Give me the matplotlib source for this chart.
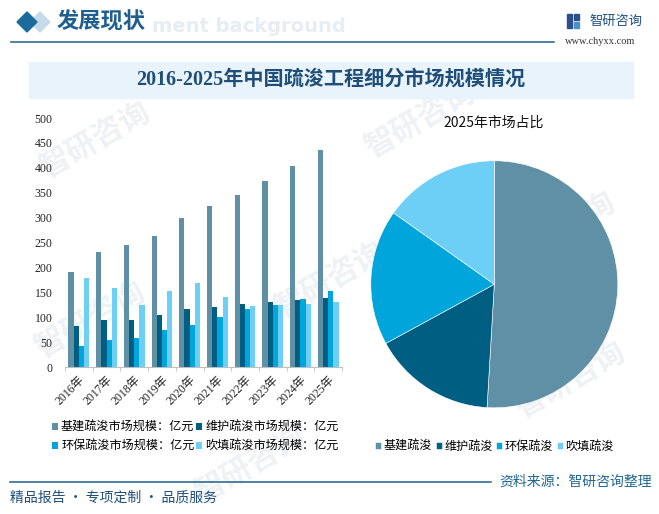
import numpy as np
import matplotlib
matplotlib.use('Agg')
import matplotlib.pyplot as plt
from matplotlib.patches import Polygon, Rectangle

# data (亿元)
years = ['2016年', '2017年', '2018年', '2019年', '2020年', '2021年', '2022年', '2023年', '2024年', '2025年']
jijian = [190, 231, 245, 263, 300, 324, 346, 374, 404, 436]
weihu = [83, 94, 95, 104, 116, 120, 126, 130, 134, 138]
huanbao = [43, 55, 59, 75, 85, 100, 116, 124, 136, 152]
chuitian = [178, 158, 124, 152, 168, 140, 122, 124, 126, 130]

bar_names = ['基建疏浚市场规模：亿元', '维护疏浚市场规模：亿元', '环保疏浚市场规模：亿元', '吹填疏浚市场规模：亿元']
pie_names = ['基建疏浚', '维护疏浚', '环保疏浚', '吹填疏浚']
pie_vals = [jijian[-1], weihu[-1], huanbao[-1], chuitian[-1]]
colors = ['#6090a6', '#005e82', '#00a5dc', '#6dcff5']

CJK = ['Noto Sans CJK SC', 'DejaVu Sans']
SERIF = ['Liberation Serif', 'Noto Sans CJK SC']
plt.rcParams['font.family'] = CJK

W, H = 659, 514
fig = plt.figure(figsize=(W / 100, H / 100), dpi=100)
fig.patch.set_facecolor('white')

# background / decoration layer in pixel coordinates
bg = fig.add_axes([0, 0, 1, 1])
bg.set_xlim(0, W)
bg.set_ylim(H, 0)
bg.axis('off')

# faint watermarks
for (wx, wy) in [(95, 140), (420, 120), (90, 320), (330, 280), (560, 230), (250, 465), (570, 380)]:
    bg.text(wx, wy, '智研咨询', fontsize=22, color='#eef2f5', rotation=30,
            ha='center', va='center', fontweight='bold', zorder=0)

# header
bg.add_patch(Polygon([(40, 12), (50, 22), (40, 32), (30, 22)], closed=True, color='#c5dbea', zorder=2))
bg.add_patch(Polygon([(27, 12), (37, 22), (27, 32), (17, 22)], closed=True, color='#1d6a9c', zorder=3))
bg.text(152, 26, 'ment background', fontsize=14, color='#e6edf3', fontweight='bold',
        ha='left', va='center', family=['DejaVu Sans'], zorder=2)
bg.text(57, 22, '发展现状', fontsize=16, color='#1f5f8f', fontweight='bold', ha='left', va='center', zorder=3)
bg.plot([11, 554], [42, 42], color='#1f5f8a', lw=1.1, zorder=3)
bg.add_patch(Rectangle((567, 14), 5, 14, color='#2b4f8a', zorder=3))
bg.add_patch(Rectangle((574, 14), 5, 6, color='#2b4f8a', zorder=3))
bg.add_patch(Rectangle((574, 22), 5, 6, color='#4a90c8', zorder=3))
bg.text(589, 21, '智研咨询', fontsize=9.5, color='#1f4f82', ha='left', va='center', zorder=3)
bg.text(565, 41, 'www.chyxx.com', fontsize=7.5, color='#333333', ha='left', va='center',
        family=['Liberation Serif'], zorder=3)

# title band
bg.add_patch(Rectangle((29, 62), 604, 36, color='#e8f3fb', zorder=1))
bg.text(331, 80, '2016-2025年中国疏浚工程细分市场规模情况', fontsize=14.5, color='#1f4e79',
        fontweight='bold', ha='center', va='center', family=SERIF, zorder=3)

# footer
bg.plot([10, 491], [482, 482], color='#1f5f8a', lw=1.1, zorder=3)
bg.text(652, 482, '资料来源：智研咨询整理', fontsize=10, color='#1f6690', ha='right', va='center', zorder=3)
bg.text(10, 498, '精品报告 · 专项定制 · 品质服务', fontsize=10, color='#1f4f7a', ha='left', va='center', zorder=3)

# bar chart
ax = fig.add_axes([65 / W, 1 - 367 / H, 277 / W, 249 / H])
ax.patch.set_alpha(0)
x = np.arange(len(years))
bw = 0.188
series = [jijian, weihu, huanbao, chuitian]
bars = []
for i, (vals, c) in enumerate(zip(series, colors)):
    b = ax.bar(x + (i - 1.5) * bw, vals, width=bw, color=c, label=bar_names[i], zorder=2)
    bars.append(b)
ax.set_xlim(-0.5, len(years) - 0.5)
ax.set_ylim(0, 500)
ax.set_yticks(range(0, 501, 50))
for s in ['left', 'top', 'right']:
    ax.spines[s].set_visible(False)
ax.spines['bottom'].set_color('#bfbfbf')
ax.tick_params(axis='y', length=0, pad=9, labelsize=8.5, labelcolor='#222222')
ax.set_xticks(x)
ax.set_xticklabels(years, rotation=45, ha='right', rotation_mode='anchor')
ax.set_xticks(np.arange(-0.5, len(years), 1), minor=True)
ax.tick_params(axis='x', which='major', length=0, pad=5, labelsize=8.5, labelcolor='#222222')
ax.tick_params(axis='x', which='minor', length=3, color='#bfbfbf')
for lab in ax.get_xticklabels() + ax.get_yticklabels():
    lab.set_family(SERIF)

order = [0, 2, 1, 3]
fig.legend([bars[i] for i in order], [bar_names[i] for i in order], ncol=2,
           loc='upper left', bbox_to_anchor=(52 / W, 1 - 421 / H), frameon=False,
           fontsize=8.7, handlelength=0.5, handleheight=0.5, handletextpad=0.25,
           columnspacing=0.15, labelspacing=0.45, borderpad=0, borderaxespad=0)

# pie chart
r = 123.5
pax = fig.add_axes([(494.3 - r) / W, 1 - (284.3 + r) / H, 2 * r / W, 2 * r / H])
wedges, _ = pax.pie(pie_vals, colors=colors, startangle=90, counterclock=False,
                    wedgeprops=dict(edgecolor='white', linewidth=0.4))
pax.set_xlim(-1, 1)
pax.set_ylim(-1, 1)
pax.set_aspect('equal')
bg.text(494, 123, '2025年市场占比', fontsize=10, color='#111111', ha='center', va='center', zorder=3)
fig.legend(wedges, pie_names, ncol=4, loc='center left',
           bbox_to_anchor=(375 / W, 1 - 446 / H), frameon=False, fontsize=8.7,
           handlelength=0.5, handleheight=0.5, handletextpad=0.2, columnspacing=0.3,
           borderpad=0, borderaxespad=0)

fig.savefig('out.png', dpi=100)
